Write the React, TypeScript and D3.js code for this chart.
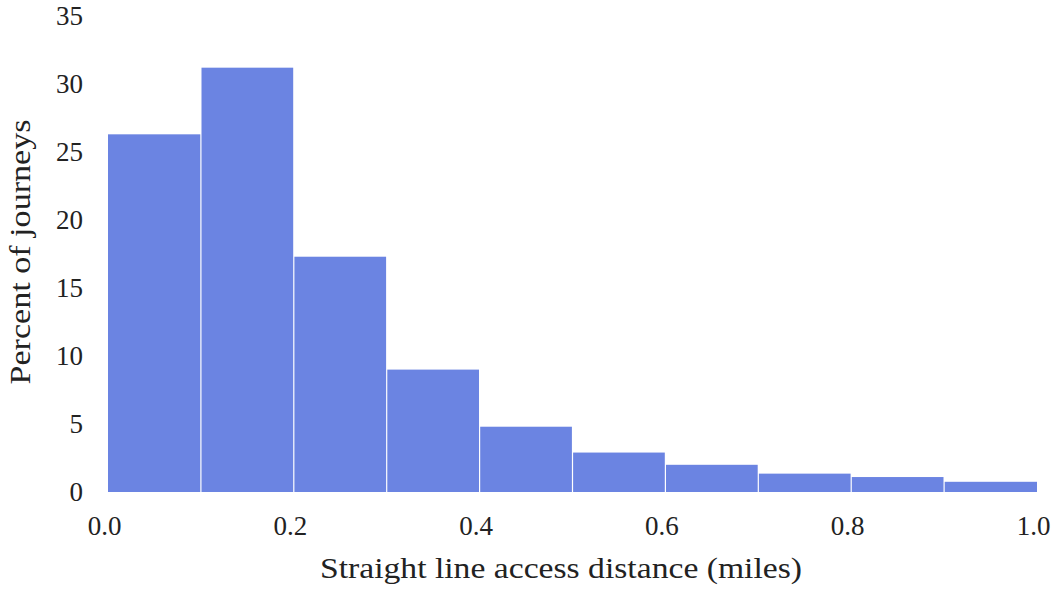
import React from "react";
import * as d3 from "d3";

const binStarts = [0.0, 0.1, 0.2, 0.3, 0.4, 0.5, 0.6, 0.7, 0.8, 0.9];
const percents = [26.3, 31.2, 17.3, 9.0, 4.8, 2.9, 2.0, 1.35, 1.1, 0.75];
const xTicks = [0.0, 0.2, 0.4, 0.6, 0.8, 1.0];
const yTicks = [0, 5, 10, 15, 20, 25, 30, 35];

const W = 1060;
const H = 590;
const FONT = "'Liberation Serif', 'DejaVu Serif', serif";

export default function App() {
  const x = d3.scaleLinear().domain([0, 1]).range([108, 1037]);
  const y = d3.scaleLinear().domain([0, 35]).range([492, 16]);
  const binW = 0.1;
  return (
    <svg width={W} height={H} style={{ position: "absolute", left: 0, top: 0, background: "#fff" }}>
      {binStarts.map((b, i) => (
        <rect
          key={i}
          x={x(b) + (i === 0 ? 0 : 0.6)}
          y={y(percents[i])}
          width={x(b + binW) - x(b) - (i === 0 ? 0.6 : 1.2) + (i === binStarts.length - 1 ? 0.6 : 0)}
          height={y(0) - y(percents[i])}
          fill="#6b84e2"
        />
      ))}
      {yTicks.map((t) => (
        <text key={t} x={83} y={y(t)} dy="0.34em" textAnchor="end" fontFamily={FONT} fontSize={27} fill="#222">
          {t}
        </text>
      ))}
      {xTicks.map((t) => (
        <text key={t} x={x(t) - 3.5} y={535} textAnchor="middle" fontFamily={FONT} fontSize={27} fill="#222">
          {d3.format(".1f")(t)}
        </text>
      ))}
      <text
        x={561}
        y={578}
        textAnchor="middle"
        fontFamily={FONT}
        fontSize={29}
        fill="#222"
        textLength={482}
        lengthAdjust="spacingAndGlyphs"
      >
        Straight line access distance (miles)
      </text>
      <text
        transform={`translate(30,252) rotate(-90)`}
        textAnchor="middle"
        fontFamily={FONT}
        fontSize={29}
        fill="#222"
        textLength={265}
        lengthAdjust="spacingAndGlyphs"
      >
        Percent of journeys
      </text>
    </svg>
  );
}
